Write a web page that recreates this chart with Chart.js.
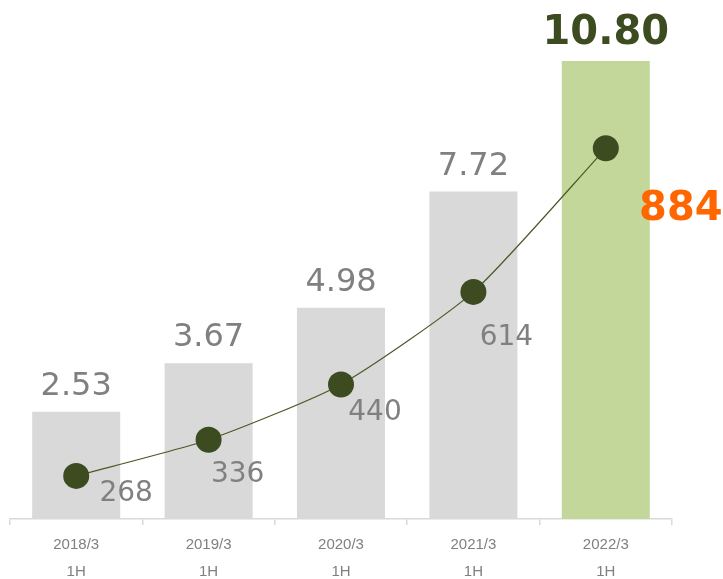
<!DOCTYPE html>
<html>
<head>
<meta charset="utf-8">
<script src="https://cdn.jsdelivr.net/npm/chart.js@4/dist/chart.umd.min.js"></script>
<style>
  html, body { margin: 0; padding: 0; background: #ffffff; }
  #wrap { width: 723px; height: 579px; }
</style>
</head>
<body>
<div id="wrap"><canvas id="c" width="723" height="579"></canvas></div>
<script>
const categories = [["2018/3", "1H"], ["2019/3", "1H"], ["2020/3", "1H"], ["2021/3", "1H"], ["2022/3", "1H"]];
const barValues = [2.53, 3.67, 4.98, 7.72, 10.80];
const barLabels = ["2.53", "3.67", "4.98", "7.72", "10.80"];
const lineValues = [268, 336, 440, 614, 884];
const lineLabels = ["268", "336", "440", "614", "884"];

const GRAY = "#d9d9d9";
const GREEN = "#c4d79b";
const DARK = "#3d4b20";
const TEXT_GRAY = "#808080";
const ORANGE = "#ff6600";

// per-point label offsets (px) relative to the point, for the line labels
const lineLabelOffsets = [[50, 25], [29, 42], [34, 36], [33, 53], [75, 72]];

const labelPlugin = {
  id: "valueLabels",
  afterDatasetsDraw(chart) {
    const ctx = chart.ctx;
    const barMeta = chart.getDatasetMeta(0);
    const lineMeta = chart.getDatasetMeta(1);
    ctx.save();
    ctx.textAlign = "center";
    ctx.textBaseline = "alphabetic";
    barMeta.data.forEach((el, i) => {
      const last = i === barMeta.data.length - 1;
      ctx.fillStyle = last ? DARK : TEXT_GRAY;
      ctx.font = last ? "bold 40px 'DejaVu Sans'" : "32px 'DejaVu Sans'";
      ctx.fillText(barLabels[i], el.x, el.y - 17);
    });
    lineMeta.data.forEach((el, i) => {
      const last = i === lineMeta.data.length - 1;
      ctx.fillStyle = last ? ORANGE : TEXT_GRAY;
      ctx.font = last ? "bold 40px 'DejaVu Sans'" : "28px 'DejaVu Sans'";
      const o = lineLabelOffsets[i];
      ctx.fillText(lineLabels[i], el.x + o[0], el.y + o[1]);
    });
    ctx.restore();
  }
};

new Chart(document.getElementById("c"), {
  data: {
    labels: categories,
    datasets: [
      {
        type: "bar",
        data: barValues,
        backgroundColor: barValues.map((v, i) => i === barValues.length - 1 ? GREEN : GRAY),
        borderWidth: 0,
        categoryPercentage: 0.665,
        barPercentage: 1.0,
        yAxisID: "y",
        order: 2
      },
      {
        type: "line",
        data: lineValues,
        borderColor: "#4a5a25",
        borderWidth: 1.2,
        pointRadius: 13,
        pointBackgroundColor: DARK,
        pointBorderColor: DARK,
        pointBorderWidth: 0,
        tension: 0.2,
        yAxisID: "y2",
        order: 1,
        clip: false
      }
    ]
  },
  options: {
    responsive: false,
    animation: false,
    devicePixelRatio: 1,
    layout: { autoPadding: false, padding: { left: 10, right: 51, top: 10, bottom: -12 } },
    plugins: { legend: { display: false }, tooltip: { enabled: false } },
    scales: {
      x: {
        offset: true,
        afterFit(scale) { scale.paddingLeft = 0; scale.paddingRight = 0; },
        grid: { offset: true, drawOnChartArea: false, color: GRAY, tickLength: 6, lineWidth: 1.5 },
        border: { color: GRAY, width: 1.5 },
        ticks: {
          color: TEXT_GRAY,
          font: { family: "'Liberation Sans', Arial", size: 15, lineHeight: 1.8 },
          padding: 6,
          maxRotation: 0
        }
      },
      y: { display: false, min: 0, max: 12 },
      y2: { display: false, min: 187, max: 1144 }
    }
  },
  plugins: [labelPlugin]
});
</script>
</body>
</html>
